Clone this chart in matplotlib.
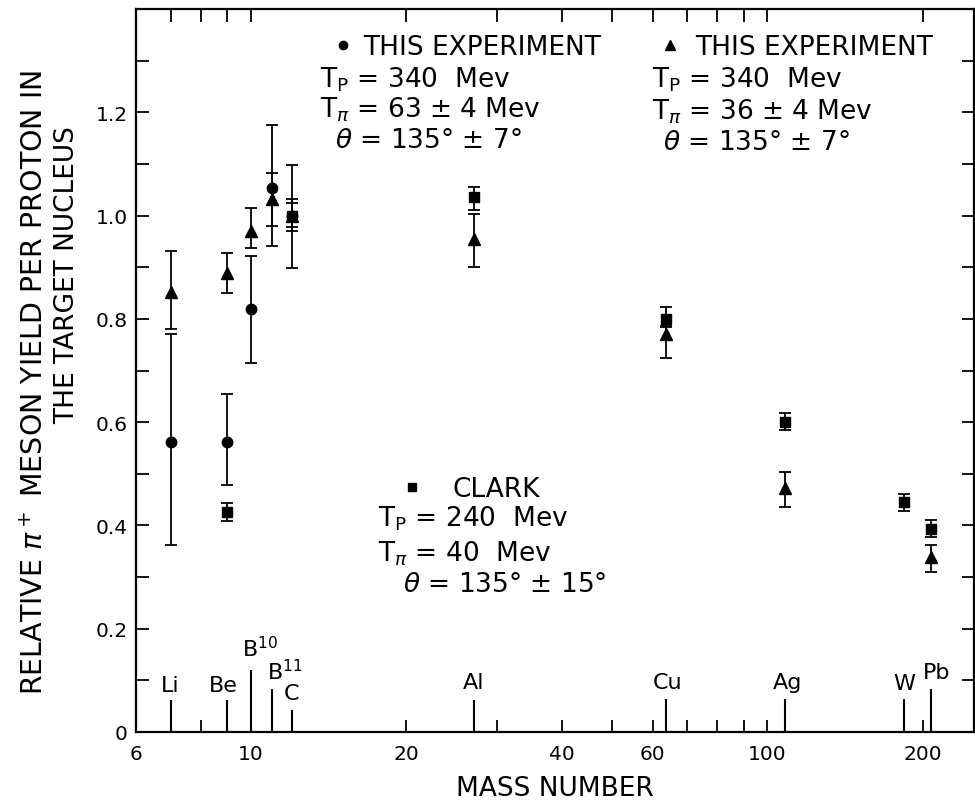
import numpy as np
import matplotlib
matplotlib.use("Agg")
import matplotlib.pyplot as plt
from matplotlib.lines import Line2D
from matplotlib.ticker import FixedLocator, NullFormatter

plt.rcParams["font.family"] = ["DejaVu Sans"]
plt.rcParams["mathtext.fontset"] = "dejavusans"

# target nuclei along the mass axis
elements = ["Li", "Be", "B$^{10}$", "B$^{11}$", "C", "Al", "Cu", "Ag", "W", "Pb"]
element_mass = [7, 9, 10, 11, 12, 27, 63.5, 108, 184, 207]

# this experiment, T_pi = 63 MeV (circles)
circ_mass = [7, 9, 10, 11, 12]
circ_yield = [0.562, 0.562, 0.819, 1.054, 1.0]
circ_low = [0.362, 0.478, 0.715, 0.941, 0.898]
circ_high = [0.770, 0.654, 0.922, 1.175, 1.097]

# this experiment, T_pi = 36 MeV (triangles)
tri_mass = [7, 9, 10, 11, 12, 27, 63.5, 108, 207]
tri_yield = [0.852, 0.888, 0.970, 1.032, 1.0, 0.955, 0.771, 0.472, 0.339]
tri_low = [0.781, 0.851, 0.938, 0.980, 0.970, 0.900, 0.725, 0.436, 0.310]
tri_high = [0.931, 0.928, 1.015, 1.083, 1.032, 1.004, 0.786, 0.504, 0.362]

# Clark, T_pi = 40 MeV (squares)
sq_mass = [9, 12, 27, 63.5, 108, 184, 207]
sq_yield = [0.426, 1.0, 1.036, 0.800, 0.600, 0.446, 0.394]
sq_low = [0.409, 0.977, 1.010, 0.784, 0.584, 0.428, 0.378]
sq_high = [0.444, 1.025, 1.055, 0.822, 0.617, 0.461, 0.410]

xticks = [6, 10, 20, 40, 60, 100, 200]
xminor = [7, 8, 9, 30, 50, 70, 80, 90]
yticks = [0, 0.2, 0.4, 0.6, 0.8, 1.0, 1.2]
ytick_labels = ["0", "0.2", "0.4", "0.6", "0.8", "1.0", "1.2"]

W, H = 975, 804


def px(x, y):
    return x / W, 1 - y / H


fig = plt.figure(figsize=(W / 100, H / 100), dpi=100)
ax = fig.add_axes([136 / W, 1 - 733 / H, 838 / W, 723 / H])
ax.set_xscale("log")
ax.set_xlim(6, 251)
ax.set_ylim(0, 1.4)

for s in ax.spines.values():
    s.set_linewidth(1.6)

ax.xaxis.set_major_locator(FixedLocator(xticks))
ax.set_xticklabels([str(t) for t in xticks])
ax.xaxis.set_minor_locator(FixedLocator(xminor))
ax.xaxis.set_minor_formatter(NullFormatter())
ax.set_yticks(yticks)
ax.set_yticklabels(ytick_labels)
ax.yaxis.set_minor_locator(FixedLocator(np.arange(0.1, 1.35, 0.2)))
ax.tick_params(which="both", direction="in", top=True, right=True,
               length=9, width=1.3, labelsize=14.5)
ax.tick_params(axis="x", pad=9)
ax.tick_params(axis="y", pad=6)

# element marker lines and labels
line_len = [0.062, 0.062, 0.120, 0.083, 0.043, 0.062, 0.064, 0.064, 0.064, 0.083]
label_off = [(0, 41, "center"), (-4, 41, "center"), (-9, 76, "left"),
             (-5, 53, "left"), (0, 33, "center"), (0, 44, "center"),
             (2, 44, "center"), (3, 44, "center"), (0, 43, "center"),
             (6, 54, "center")]
for name, m, ln, (dx, dy, ha) in zip(elements, element_mass, line_len, label_off):
    ax.plot([m, m], [0, ln], color="black", lw=1.5, solid_capstyle="butt")
    ax.annotate(name, xy=(m, 0), xytext=(dx, dy), textcoords="offset pixels",
                ha=ha, va="baseline", fontsize=16)

eb = dict(color="black", ecolor="black", elinewidth=1.3, capsize=4.5,
          capthick=1.3, linestyle="none")
for mass, yv, lo, hi, mk, ms in [
    (circ_mass, circ_yield, circ_low, circ_high, "o", 7.5),
    (tri_mass, tri_yield, tri_low, tri_high, "^", 8.5),
    (sq_mass, sq_yield, sq_low, sq_high, "s", 6.5),
]:
    yv = np.array(yv)
    yerr = [yv - np.array(lo), np.array(hi) - yv]
    ax.errorbar(mass, yv, yerr=yerr, marker=mk, markersize=ms, **eb)

fig.text(*px(555, 789), "MASS NUMBER", ha="center", va="center", fontsize=19)

fig.text(*px(35, 382), "RELATIVE $\\pi^+$ MESON YIELD PER PROTON IN",
         rotation=90, ha="center", va="center", fontsize=20.5)
fig.text(*px(67, 275), "THE TARGET NUCLEUS",
         rotation=90, ha="center", va="center", fontsize=19)

fs = 19
# left legend block
fig.add_artist(Line2D([343 / W], [1 - 46 / H], marker="o", markersize=6,
                      color="black", transform=fig.transFigure))
fig.text(*px(363, 55), "THIS EXPERIMENT", fontsize=fs, va="baseline")
fig.text(*px(320, 88), "T$_\\mathrm{P}$ = 340  Mev", fontsize=fs, va="baseline")
fig.text(*px(320, 118), "T$_\\pi$ = 63 ± 4 Mev", fontsize=fs, va="baseline")
fig.text(*px(335, 148), "$\\theta$ = 135° ± 7°", fontsize=fs, va="baseline")

# right legend block
fig.add_artist(Line2D([670 / W], [1 - 46 / H], marker="^", markersize=7,
                      color="black", transform=fig.transFigure))
fig.text(*px(695, 55), "THIS EXPERIMENT", fontsize=fs, va="baseline")
fig.text(*px(652, 87), "T$_\\mathrm{P}$ = 340  Mev", fontsize=fs, va="baseline")
fig.text(*px(652, 120), "T$_\\pi$ = 36 ± 4 Mev", fontsize=fs, va="baseline")
fig.text(*px(663, 150), "$\\theta$ = 135° ± 7°", fontsize=fs, va="baseline")

# Clark legend block
fig.add_artist(Line2D([412 / W], [1 - 488 / H], marker="s", markersize=6,
                      color="black", transform=fig.transFigure))
fig.text(*px(453, 497), "CLARK", fontsize=fs, va="baseline")
fig.text(*px(378, 527), "T$_\\mathrm{P}$ = 240  Mev", fontsize=fs, va="baseline")
fig.text(*px(378, 562), "T$_\\pi$ = 40  Mev", fontsize=fs, va="baseline")
fig.text(*px(403, 592), "$\\theta$ = 135° ± 15°", fontsize=fs, va="baseline")

fig.savefig("out.png", dpi=100)
